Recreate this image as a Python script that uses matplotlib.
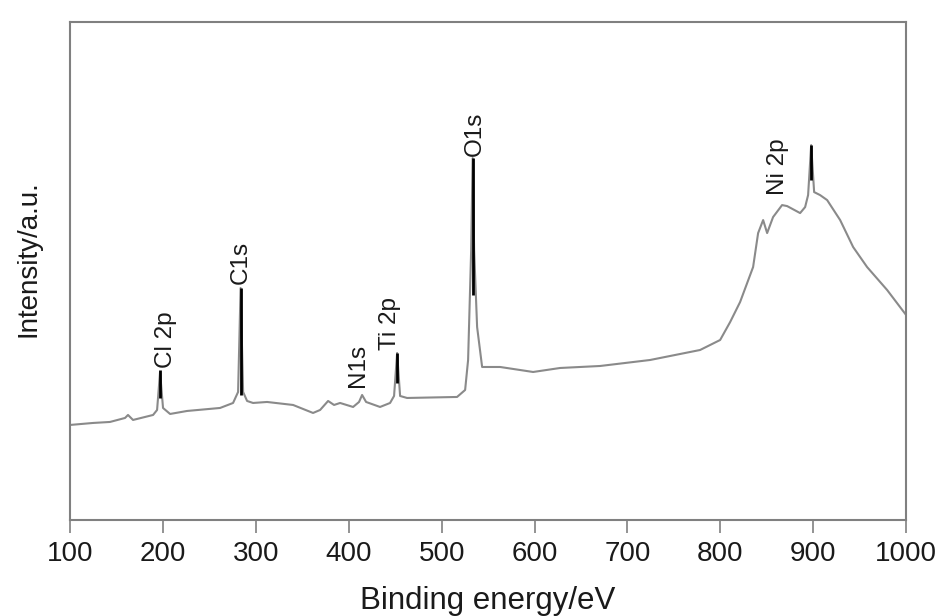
import numpy as np
import matplotlib
matplotlib.use("Agg")
import matplotlib.pyplot as plt

plt.rcParams['font.family'] = ['Liberation Sans', 'DejaVu Sans']

# XPS survey spectrum
energy = [100, 124.8, 143, 159.2, 162.4, 167.8, 189.4, 193.7, 196.9, 200.1,
          207.7, 226, 261.5, 275.5, 280.9, 283.6, 286.3, 290.6, 297, 312.1,
          340.1, 361.6, 369.2, 377.8, 384.2, 390.7, 404.7, 411.1, 414.4, 418.7,
          433.7, 444.5, 448.8, 452.1, 455.3, 462.8, 516.6, 525.3, 528.5, 531.8,
          533.4, 535, 538.2, 543.6, 563, 598.5, 627.5, 670.6, 724.4, 778.2,
          799.8, 810.6, 821.3, 835.3, 840.7, 846.1, 850.4, 856.8, 866.5, 871.9,
          885.9, 891.3, 894.5, 897.8, 901, 907.4, 915, 929, 943, 958,
          979.6, 1000]
intensity = [95, 97, 98, 102, 105, 100, 105, 110, 148, 112,
             106, 109, 112, 117, 128, 232, 128, 119, 117, 118,
             115, 107, 110, 119, 115, 117, 113, 118, 125, 118,
             113, 117, 124, 167, 124, 122, 123, 130, 160, 270,
             362, 270, 193, 153, 153, 148, 152, 154, 160, 170,
             180, 198, 218, 253, 287, 300, 287, 303, 315, 314,
             307, 313, 325, 375, 328, 325, 320, 300, 273, 253,
             230, 205]

# peak labels: text, label x, label bottom
peak_names = ['Cl 2p', 'C1s', 'N1s', 'Ti 2p', 'O1s', 'Ni 2p']
label_x = [203.5, 283.5, 410, 444.5, 536, 862]
label_y = [152, 236, 133, 170, 364, 325]

# black marker lines on the peaks: energy, bottom, top
mark_x = [196.9, 283.6, 452.1, 533.4, 897.8]
mark_lo = [122, 125, 137, 225, 340]
mark_hi = [150, 232, 167, 362, 375]

fig = plt.figure(figsize=(9.49, 6.16), dpi=100)
ax = fig.add_axes([0.0738, 0.156, 0.881, 0.808])

ax.plot(energy, intensity, color='#8a8a8a', linewidth=1.5)
ax.vlines(mark_x, mark_lo, mark_hi, color='black', linewidth=2)

for name, x, y in zip(peak_names, label_x, label_y):
    ax.text(x, y, name, rotation=90, ha='center', va='bottom', fontsize=17.5,
            color='#1a1a1a')

ax.set_xlim(100, 1000)
ax.set_ylim(0, 498)
ax.set_xticks(np.arange(100, 1001, 100))
ax.set_yticks([])
ax.tick_params(axis='x', direction='out', length=9, width=1.2,
               color='#808080', labelsize=20, labelcolor='#1a1a1a', pad=6)

for s in ax.spines.values():
    s.set_color('#808080')
    s.set_linewidth(1.5)

ax.set_xlabel('Binding energy/eV', fontsize=22.5, labelpad=14, color='#1a1a1a')
ax.set_ylabel('Intensity/a.u.', fontsize=20, color='#1a1a1a')
ax.yaxis.set_label_coords(-0.034, 0.525)

plt.savefig('out.png', dpi=100)
